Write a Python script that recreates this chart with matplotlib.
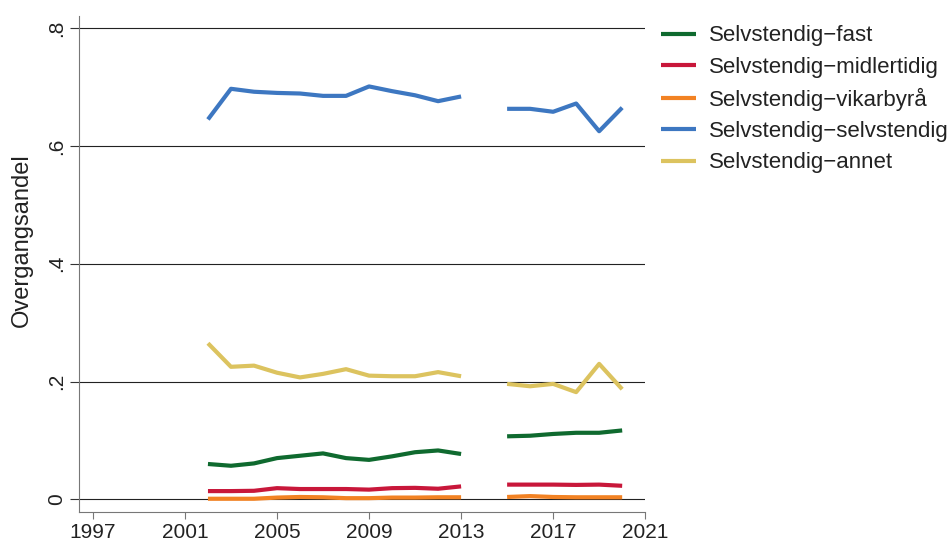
import numpy as np
import matplotlib.pyplot as plt

plt.rcParams['font.family'] = ['Liberation Sans', 'DejaVu Sans']

years = list(range(2002, 2021))
nan = np.nan

# 2014 mangler (NaN gir brudd i linjene)
fast = [0.060, 0.057, 0.061, 0.070, 0.074, 0.078, 0.070, 0.067, 0.073, 0.080, 0.083, 0.077,
        nan, 0.107, 0.108, 0.111, 0.113, 0.113, 0.117]
midlertidig = [0.014, 0.014, 0.0145, 0.019, 0.0175, 0.0175, 0.0175, 0.0165, 0.019, 0.0195, 0.018, 0.022,
               nan, 0.025, 0.025, 0.025, 0.0245, 0.025, 0.023]
vikarbyraa = [0.001, 0.001, 0.001, 0.003, 0.004, 0.0035, 0.002, 0.002, 0.003, 0.003, 0.0035, 0.0035,
              nan, 0.004, 0.0055, 0.004, 0.0035, 0.0035, 0.0035]
selvstendig = [0.645, 0.697, 0.692, 0.690, 0.689, 0.685, 0.685, 0.701, 0.693, 0.686, 0.676, 0.684,
               nan, 0.663, 0.663, 0.658, 0.672, 0.625, 0.665]
annet = [0.265, 0.225, 0.227, 0.215, 0.207, 0.213, 0.221, 0.210, 0.209, 0.209, 0.216, 0.209,
         nan, 0.196, 0.192, 0.196, 0.182, 0.230, 0.187]

labels = ["Selvstendig\u2212fast", "Selvstendig\u2212midlertidig", "Selvstendig\u2212vikarbyr\u00e5",
          "Selvstendig\u2212selvstendig", "Selvstendig\u2212annet"]
colors = ["#0f6a2f", "#c8173a", "#f28223", "#3d77c1", "#dcc35f"]

xticks = [1997, 2001, 2005, 2009, 2013, 2017, 2021]
yticks = [0, 0.2, 0.4, 0.6, 0.8]
yticklabels = ["0", ".2", ".4", ".6", ".8"]

fig = plt.figure(figsize=(9.53, 5.45), dpi=100)
ax = fig.add_axes([0.083, 0.06, 0.594, 0.91])

for series, lab, col in zip([fast, midlertidig, vikarbyraa, selvstendig, annet], labels, colors):
    ax.plot(years, series, color=col, lw=3.0, label=lab, solid_capstyle='butt')

ax.set_xlim(1996.4, 2021.0)
ax.set_ylim(-0.022, 0.82)
ax.set_xticks(xticks)
ax.set_yticks(yticks)
ax.set_yticklabels(yticklabels, rotation=90, va='center')
ax.tick_params(axis='both', labelsize=15, colors='#222222', width=0.8, direction='out')
ax.tick_params(axis='x', color='#777777', length=5, pad=2.9)
ax.tick_params(axis='y', color='#333333', length=6.5, pad=2.6)
ax.grid(axis='y', color='#222222', lw=0.8)
ax.set_axisbelow(True)
for s in ['top', 'right']:
    ax.spines[s].set_visible(False)
for s in ['left', 'bottom']:
    ax.spines[s].set_color('#777777')
    ax.spines[s].set_linewidth(0.8)
ax.set_ylabel("Overgangsandel", fontsize=17, color='#222222')
ax.yaxis.set_label_coords(-0.081, 0.548)

ax.legend(loc='upper left', bbox_to_anchor=(0.673, 0.99), bbox_transform=fig.transFigure,
          frameon=False, fontsize=16, handlelength=1.55, handletextpad=0.58, labelspacing=0.46,
          labelcolor='#222222')

fig.savefig("out.png", dpi=100)
